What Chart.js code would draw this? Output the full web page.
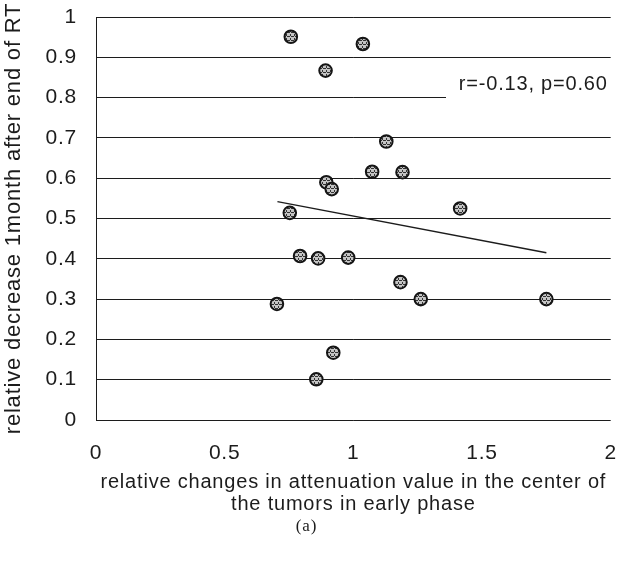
<!DOCTYPE html>
<html>
<head>
<meta charset="utf-8">
<script src="https://cdn.jsdelivr.net/npm/chart.js@4"></script>
<style>
  html, body { margin: 0; padding: 0; background: #fff; }
  canvas { display: block; }
</style>
</head>
<body>
<canvas id="chart" width="619" height="568"></canvas>
<script>
/* scatter: relative decrease vs relative change in attenuation, with fit line */

const xValues = [0.757, 1.037, 0.892, 1.128, 1.073, 1.191, 0.895, 0.916, 0.753, 0.793, 0.863, 0.980, 1.183, 1.262, 0.703, 0.922, 0.856, 1.415, 1.750];
const yValues = [0.951, 0.933, 0.867, 0.691, 0.616, 0.615, 0.590, 0.573, 0.514, 0.407, 0.401, 0.403, 0.342, 0.300, 0.288, 0.167, 0.101, 0.525, 0.300];
const fitX = [0.705, 1.750];
const fitY = [0.542, 0.415];
const xTicks = [0, 0.5, 1, 1.5, 2];
const noteText = 'r=-0.13, p=0.60';

const INK = '#1c1c1c';
const SANS = '"Liberation Sans", Arial, sans-serif';
const fmt = (v) => String(Number(v.toFixed(1)));

// speckled grey fill like the scanned markers
function speckle() {
  const c = document.createElement('canvas');
  c.width = c.height = 4;
  const g = c.getContext('2d');
  g.fillStyle = '#c4c4c4';
  g.fillRect(0, 0, 4, 4);
  g.fillStyle = '#333';
  g.fillRect(0, 0, 2, 1);
  g.fillRect(2, 2, 1, 2);
  g.fillRect(3, 0, 1, 1);
  return g.createPattern(c, 'repeat');
}

// the scan's lettering is a bit loosely spaced
const spacing = {
  id: 'spacing',
  beforeUpdate(chart) { chart.ctx.letterSpacing = '0.8px'; },
  beforeDraw(chart) { chart.ctx.letterSpacing = '0.8px'; },
};

// white box over the 0.8 gridline, then the r/p note
const notePlugin = {
  id: 'note',
  afterDatasetsDraw(chart) {
    const { ctx, chartArea, scales: { x, y } } = chart;
    const cut = x.getPixelForValue(1.36);
    const gy = y.getPixelForValue(0.8);
    ctx.save();
    ctx.fillStyle = '#fff';
    ctx.fillRect(cut, gy - 2, chartArea.right - cut + 2, 4);
    ctx.fillStyle = INK;
    ctx.font = '20px ' + SANS;
    ctx.textBaseline = 'middle';
    ctx.fillText(noteText, x.getPixelForValue(1.41), y.getPixelForValue(0.832));
    ctx.restore();
  },
};

const points = xValues.map((v, i) => ({ x: v, y: yValues[i] }));
const fit = fitX.map((v, i) => ({ x: v, y: fitY[i] }));

new Chart(document.getElementById('chart'), {
  type: 'scatter',
  data: {
    datasets: [
      { type: 'line', data: fit, borderColor: INK, borderWidth: 1.4, pointRadius: 0, fill: false, order: 2 },
      { data: points, backgroundColor: speckle(), borderColor: '#151515', borderWidth: 2, pointRadius: 6.3, order: 1 },
    ],
  },
  options: {
    responsive: false,
    animation: false,
    layout: { padding: { top: 17, right: 6, left: 0, bottom: 0 } },
    plugins: {
      legend: { display: false },
      tooltip: { enabled: false },
      title: {
        display: true, position: 'bottom', text: '(a)', color: INK,
        font: { family: '"Liberation Serif", "Times New Roman", serif', size: 17, weight: 'normal', lineHeight: 1.2 },
        padding: { top: 0, bottom: 31 },
      },
    },
    scales: {
      x: {
        type: 'linear', min: 0, max: 2,
        afterBuildTicks: (s) => { s.ticks = xTicks.map((v) => ({ value: v })); },
        afterFit: (s) => { s.height = 96.6; s.paddingLeft = 0; s.paddingRight = 0; },
        grid: { display: false, drawTicks: false },
        border: { display: false },
        ticks: { color: INK, padding: 21, font: { family: SANS, size: 21 }, maxRotation: 0, callback: fmt },
        title: {
          display: true, color: INK,
          text: ['relative changes in attenuation value in the center of', 'the tumors in early phase'],
          font: { family: SANS, size: 20, lineHeight: 1.1 },
          padding: { top: 0, bottom: 1 },
        },
      },
      y: {
        min: 0, max: 1,
        afterFit: (s) => { s.width = 96; s.paddingTop = 0; s.paddingBottom = 0; },
        grid: { color: INK, lineWidth: 1, drawTicks: false },
        border: { display: true, color: INK, width: 1 },
        ticks: { stepSize: 0.1, color: INK, padding: 19, font: { family: SANS, size: 21 }, callback: fmt },
        title: {
          display: true, color: INK,
          text: 'relative decrease 1month after end of RT',
          font: { family: SANS, size: 22, lineHeight: 1.1 },
          padding: { top: 2, bottom: 0 },
        },
      },
    },
  },
  plugins: [spacing, notePlugin],
});
</script>
</body>
</html>
